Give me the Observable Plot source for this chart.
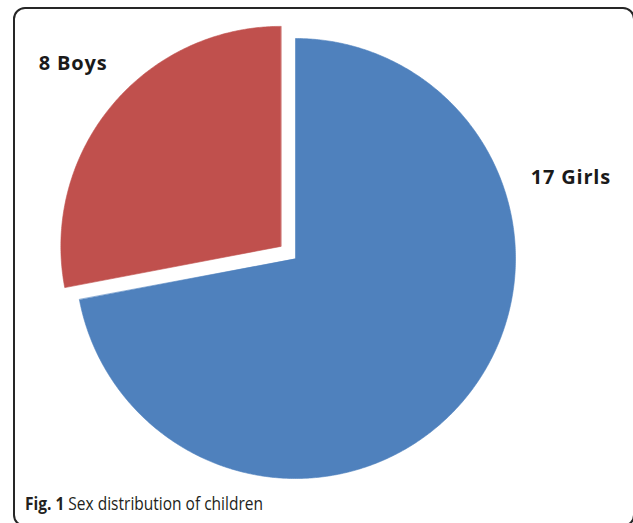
<!DOCTYPE html>
<html><head><meta charset="utf-8">
<script src="https://cdn.jsdelivr.net/npm/d3@7"></script>
<script src="https://cdn.jsdelivr.net/npm/@observablehq/plot@0.6"></script>
<style>
html,body{margin:0;padding:0;width:633px;height:523px;overflow:hidden;background:#fff;}
#frame{position:absolute;left:13px;top:7px;width:622px;height:520px;box-sizing:border-box;border:2px solid #262626;border-radius:12px;}
#chart{position:absolute;left:0;top:0;}
#cap{position:absolute;left:25px;top:491px;font-family:"Open Sans",sans-serif;font-size:18px;color:#231f20;white-space:nowrap;transform-origin:0 0;}
#cap b{font-weight:700;}
</style></head><body>
<div id="frame"></div>
<div id="chart"></div>
<div id="cap"><b>Fig. 1</b> Sex distribution of children</div>
<script>
// ---- data ----
const categories = ["Girls", "Boys"];
const counts = [17, 8];              // numbers printed in the labels
const sliceShares = [72, 28];        // angular share of each slice as drawn (%)
const exploded = [false, true];
const colors = ["#4f81bd", "#c0504d"];

// ---- layout ----
const W = 633, H = 490, cx = 295, cy = 258, R = 220, explodeDist = 19;
const labelAngle = [73.6, -48.7];    // degrees clockwise from 12 o'clock
const labelDist = [287, 296];

const pie = d3.pie().sort(null).startAngle(0).endAngle(2 * Math.PI);
const arcs = pie(sliceShares);

const pts = [];
arcs.forEach((a, i) => {
  const mid = (a.startAngle + a.endAngle) / 2;
  const ox = exploded[i] ? explodeDist * Math.sin(mid) : 0;
  const oy = exploded[i] ? explodeDist * Math.cos(mid) : 0;
  const cat = categories[i];
  pts.push({cat, x: ox, y: oy});
  const n = Math.max(2, Math.ceil((a.endAngle - a.startAngle) / (Math.PI / 360)));
  for (let k = 0; k <= n; k++) {
    const t = a.startAngle + (a.endAngle - a.startAngle) * k / n;
    pts.push({cat, x: ox + R * Math.sin(t), y: oy + R * Math.cos(t)});
  }
});

const labels = categories.map((c, i) => {
  const t = labelAngle[i] * Math.PI / 180;
  return {text: `${counts[i]} ${c}`, x: labelDist[i] * Math.sin(t), y: labelDist[i] * Math.cos(t)};
});

const chart = Plot.plot({
  width: W, height: H, margin: 0,
  x: {domain: [-cx, W - cx], axis: null},
  y: {domain: [-(H - cy), cy], axis: null},
  color: {domain: categories, range: colors},
  style: {background: "transparent"},
  marks: [
    Plot.line(pts, {x: "x", y: "y", z: "cat", fill: "cat", stroke: "cat", strokeWidth: 0.6, curve: "linear-closed"}),
    Plot.text(labels, {x: "x", y: "y", text: "text", fontWeight: "bold", fontSize: 20,
      fontFamily: "'Open Sans', sans-serif", fill: "#1a1a1a", textAnchor: "middle", lineAnchor: "middle"})
  ]
});
document.getElementById("chart").appendChild(chart);
chart.querySelectorAll('g[aria-label="text"] text').forEach(t => t.style.letterSpacing = "0.8px");

const cap = document.getElementById("cap");
const w = cap.getBoundingClientRect().width;
cap.style.transform = `scaleX(${238 / w})`;
</script>
</body></html>
